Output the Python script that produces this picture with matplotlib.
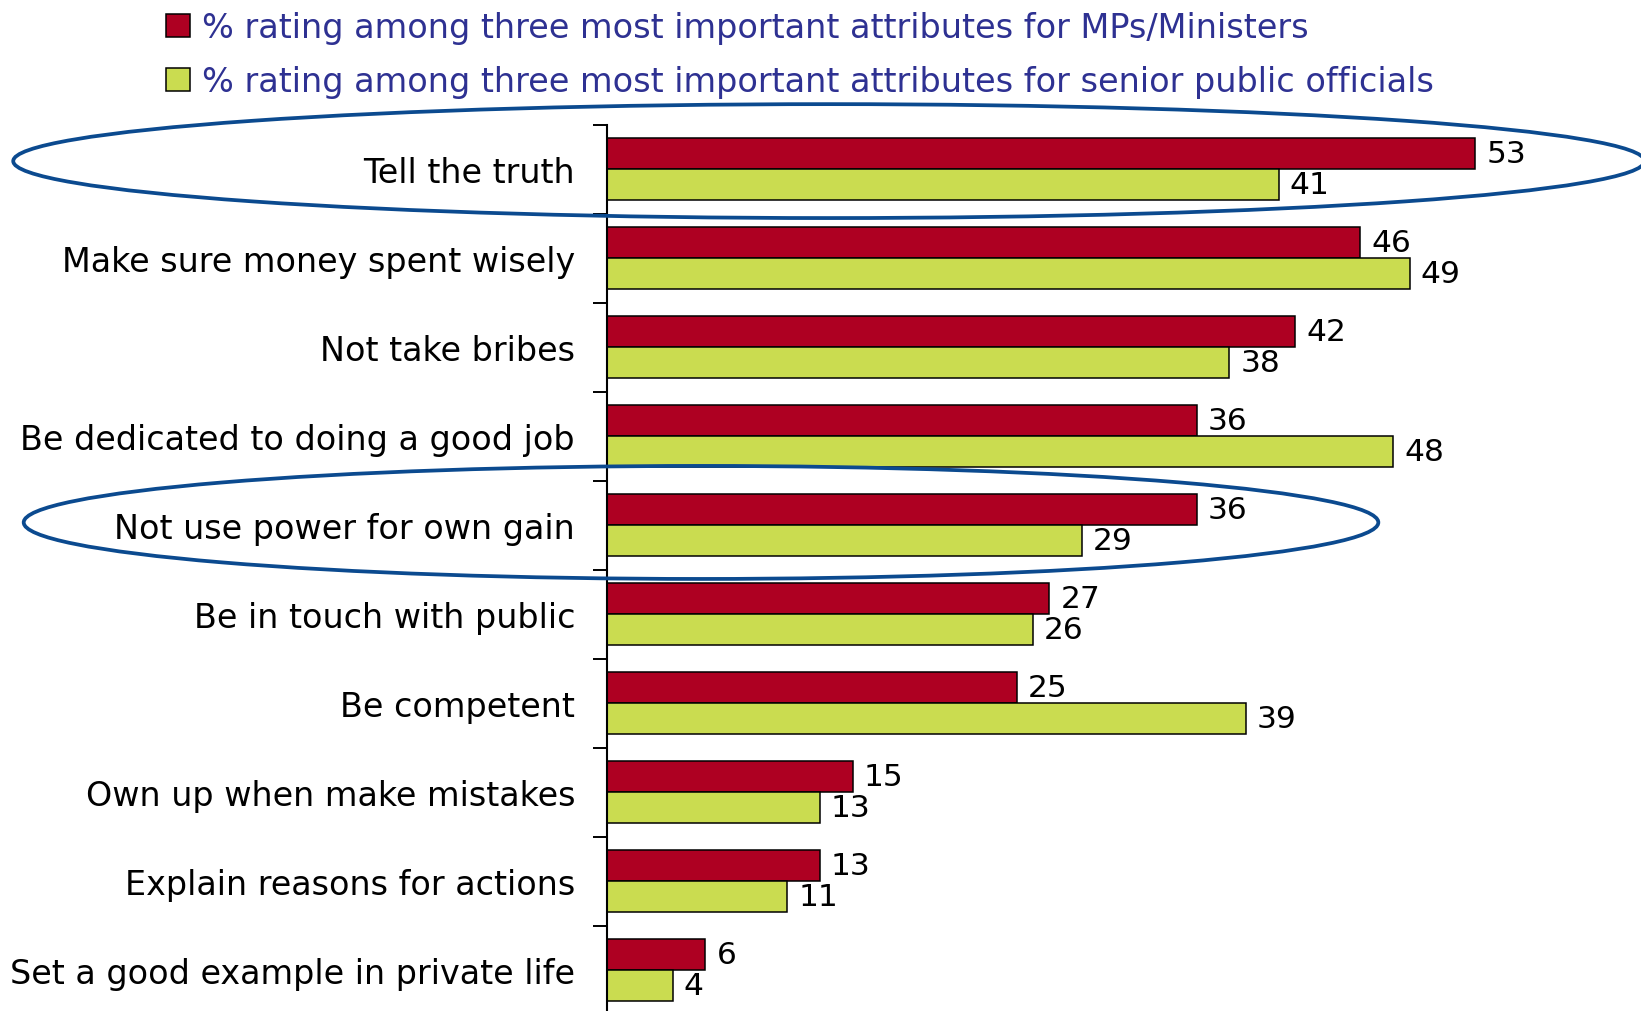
import matplotlib
matplotlib.use('Agg')
import matplotlib.pyplot as plt
from matplotlib.patches import Ellipse
import numpy as np

categories = [
    "Tell the truth",
    "Make sure money spent wisely",
    "Not take bribes",
    "Be dedicated to doing a good job",
    "Not use power for own gain",
    "Be in touch with public",
    "Be competent",
    "Own up when make mistakes",
    "Explain reasons for actions",
    "Set a good example in private life",
]
mps_ministers = [53, 46, 42, 36, 36, 27, 25, 15, 13, 6]
senior_officials = [41, 49, 38, 48, 29, 26, 39, 13, 11, 4]
series_names = [
    "% rating among three most important attributes for MPs/Ministers",
    "% rating among three most important attributes for senior public officials",
]
highlighted = ["Tell the truth", "Not use power for own gain"]

RED = '#AE0022'
GREEN = '#CADC50'
LEG_TXT = '#2E3192'
ELL = '#0B4A8F'

plt.rcParams['font.family'] = ['DejaVu Sans']

W, H = 1641, 1012
fig = plt.figure(figsize=(W / 100, H / 100), dpi=100)
x0 = 607
px_per_unit = 16.38
top = 125.6
cat_h = 89
n = len(categories)
ax = fig.add_axes([x0 / W, 1 - (top + cat_h * n) / H, 1 - x0 / W, cat_h * n / H])
ax.set_xlim(0, (W - x0) / px_per_unit)
ax.set_ylim(n - 0.5, -0.5)

y = np.arange(n)
h = 0.35
b1 = ax.barh(y - h / 2, mps_ministers, height=h, color=RED, edgecolor='black',
             linewidth=1.1, label=series_names[0], zorder=2)
b2 = ax.barh(y + h / 2, senior_officials, height=h, color=GREEN, edgecolor='black',
             linewidth=1.1, label=series_names[1], zorder=2)
ax.bar_label(b1, padding=8, fontsize=22.5, color='black')
ax.bar_label(b2, padding=8, fontsize=22.5, color='black')

for s in ['top', 'right', 'bottom']:
    ax.spines[s].set_visible(False)
ax.spines['left'].set_linewidth(1.5)
ax.spines['left'].set_color('black')
ax.set_xticks([])
ax.set_yticks(y)
ax.set_yticklabels(categories, fontsize=24)
ax.tick_params(axis='y', which='major', length=0, pad=23)
ax.set_yticks(np.arange(-0.5, n, 1), minor=True)
ax.tick_params(axis='y', which='minor', length=10, width=1.4, direction='out', color='black')

# highlight ellipses (annotation)
ell_specs = {
    "Tell the truth": dict(cx=13.55, w=99.6, dy=-0.09, hh=1.28),
    "Not use power for own gain": dict(cx=5.74, w=82.7, dy=-0.03, hh=1.27),
}
for name in highlighted:
    i = categories.index(name)
    sp = ell_specs[name]
    e = Ellipse((sp['cx'], i + sp['dy']), sp['w'], sp['hh'], fill=False,
                edgecolor=ELL, linewidth=2.7, clip_on=False, zorder=5)
    ax.add_patch(e)

fig.legend(handles=[b1, b2], labels=series_names, loc='upper left',
           bbox_to_anchor=(166 / W, 1 - 12 / H), frameon=False, fontsize=24.1,
           handlelength=0.72, handleheight=0.69, handletextpad=0.36,
           labelspacing=0.64, borderpad=0, borderaxespad=0, labelcolor=LEG_TXT)

fig.savefig('out.png', dpi=100)
